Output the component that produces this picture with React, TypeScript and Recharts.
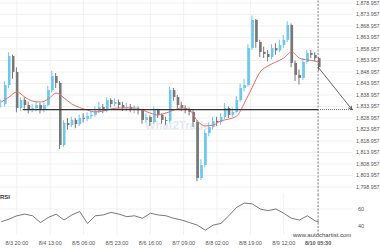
import React from "react";
import {
  ComposedChart, Bar, Line, XAxis, YAxis, CartesianGrid, ReferenceLine, Cell,
} from "recharts";

// hours relative to 8/3 20:00, candles every 2h starting 8/3 12:00
const closes = [
  1835.05, 1843.3, 1855.9, 1849.0, 1833.3, 1836.8, 1834.6, 1832.4, 1833.3, 1834.6,
  1832.4, 1834.6, 1841.1, 1847.2, 1844.2, 1817.2, 1826.8, 1825.9, 1828.1, 1826.3,
  1829.0, 1828.6, 1829.8, 1830.3, 1832.0, 1833.7, 1832.4, 1836.8, 1835.05, 1835.9,
  1834.6, 1833.3, 1833.7, 1832.8, 1832.9, 1832.4, 1828.1, 1829.4, 1827.2, 1832.4,
  1830.3, 1828.1, 1827.7, 1841.1, 1838.1, 1834.6, 1833.3, 1832.4, 1831.6, 1827.2,
  1802.9, 1808.5, 1822.4, 1825.0, 1827.7, 1827.2, 1829.4, 1833.3, 1830.3, 1831.6,
  1836.8, 1842.0, 1843.3, 1859.4, 1871.6, 1862.0, 1857.7, 1856.8, 1855.5, 1859.4,
  1858.3, 1860.7, 1862.9, 1869.4, 1852.9, 1847.7, 1846.4, 1853.3, 1857.2, 1856.4,
  1855.0, 1851.1,
];
const highs = [
  1837, 1845, 1857.5, 1856.5, 1851, 1838, 1838, 1836, 1835, 1836.5,
  1835.5, 1836, 1843, 1849.5, 1848.5, 1845, 1828, 1829, 1829.5, 1829,
  1830.5, 1831, 1831.5, 1832, 1834, 1836, 1835, 1838, 1837.5, 1837.5,
  1837, 1836, 1835.5, 1835, 1834.5, 1834, 1833, 1831, 1830, 1834,
  1833, 1831, 1829.5, 1842.5, 1842, 1839, 1836, 1834.5, 1833.5, 1832.5,
  1828, 1811, 1824, 1827, 1829.5, 1829.5, 1831, 1835.5, 1834, 1833.5,
  1838.5, 1844, 1846, 1861, 1873.5, 1872, 1863, 1860, 1858.5, 1861,
  1861.5, 1863, 1865, 1871, 1870, 1854, 1850, 1855, 1858.5, 1858.5,
  1857.5, 1855.5,
];
const lows = [
  1833.5, 1834, 1842, 1846, 1831.5, 1832, 1833, 1831, 1831.5, 1832,
  1831, 1831.5, 1834, 1840, 1842, 1815.5, 1816.5, 1824, 1825, 1824.5,
  1825.5, 1827, 1827.5, 1828.5, 1829.5, 1831, 1831, 1831.5, 1833.5, 1834,
  1833, 1832, 1832, 1831.5, 1831, 1830.5, 1826.5, 1827, 1825.5, 1826.5,
  1829, 1826.5, 1826, 1827, 1836.5, 1833, 1832, 1831, 1830, 1825,
  1801.5, 1802, 1807.5, 1821, 1824, 1825.5, 1826, 1828.5, 1829, 1829.5,
  1831, 1836, 1840.5, 1842.5, 1858.5, 1859.5, 1855.5, 1855, 1853.5, 1854.5,
  1856.5, 1857.5, 1859.5, 1862, 1851, 1845, 1843.5, 1845.5, 1852.5, 1855,
  1853.5, 1849.5,
];

// moving average, every 4h (last one at the final candle)
const maValues = [
  1835.9, 1838.1, 1840.3, 1838.1, 1836.3, 1835.9, 1837.2, 1839.8, 1837.7, 1835.05,
  1833.5, 1832.4, 1831.6, 1832.0, 1832.9, 1833.3, 1833.3, 1833.3, 1832.4, 1831.1,
  1830.3, 1831.1, 1832.4, 1833.3, 1832.4, 1827.7, 1825.5, 1825.9, 1827.7, 1828.5,
  1829.8, 1835.5, 1842.4, 1849.0, 1851.6, 1853.3, 1855.0, 1857.7, 1855.0, 1854.2,
  1853.7, 1852.9,
];

// RSI, every 4h
const rsiValues = [
  45, 48, 52, 54, 52, 44, 50, 54, 47, 53,
  57, 43, 52, 53, 56, 54, 51, 52, 49, 55,
  53, 52, 49, 47, 44, 41, 35, 41, 43, 52,
  62, 67, 66, 60, 58, 60, 55, 49, 47, 52,
  46, 44.5,
];

const priceTicks = [
  1798.957, 1803.957, 1808.957, 1813.957, 1818.957, 1823.957, 1828.957, 1833.957,
  1838.957, 1843.957, 1848.957, 1853.957, 1858.957, 1863.957, 1868.957, 1873.957, 1878.957,
];
const timeTicks = [0, 17, 34, 51, 68, 85, 102, 119, 136, 153.5];
const timeLabels = [
  "8/3 20:00", "8/4 13:00", "8/5 06:00", "8/5 23:00", "8/6 16:00",
  "8/7 09:00", "8/8 02:00", "8/8 19:00", "8/9 12:00", "8/10 05:30",
];
const supportLevel = 1832.6;
const lastTime = 153.5;
const targetTime = 170.8;

const X_DOMAIN = [-8.6, 171.3];
const FONT = "'Liberation Sans', Arial, sans-serif";
const UP = "#6cc7ee";
const DOWN = "#777777";

const lastIdx = closes.length - 1;
const candles = closes.map((c, i) => ({
  t: -8 + 2 * i,
  body: [i ? closes[i - 1] : c, c],
  wick: [lows[i], highs[i]],
  up: i ? c >= closes[i - 1] : true,
  ma: i % 2 === 0 ? maValues[i / 2] : i === lastIdx ? maValues[maValues.length - 1] : null,
}));
const rsiData = rsiValues.map((v, k) => ({ t: Math.min(-8 + 4 * k, 154), rsi: v }));

const fmtPrice = (v: number) =>
  v.toLocaleString("en-US", { minimumFractionDigits: 3, maximumFractionDigits: 3 });

function Arrow(props: any) {
  const { x1, y1, x2, y2 } = props;
  const a = Math.atan2(y2 - y1, x2 - x1);
  const s = 4;
  const p1 = [x2 - s * Math.cos(a - 0.45), y2 - s * Math.sin(a - 0.45)];
  const p2 = [x2 - s * Math.cos(a + 0.45), y2 - s * Math.sin(a + 0.45)];
  return (
    <g>
      <line x1={x1} y1={y1} x2={x2} y2={y2} stroke="#555" strokeWidth={0.9} />
      <path d={`M${p1[0]},${p1[1]}L${x2},${y2}L${p2[0]},${p2[1]}`} fill="none" stroke="#444" strokeWidth={0.9} />
    </g>
  );
}

export default function App() {
  return (
    <div style={{ position: "absolute", left: 0, top: 0, width: 380, height: 250, background: "#fff", fontFamily: FONT }}>
      <div style={{ position: "absolute", left: 145, top: 119, fontSize: 11, fontWeight: 700, color: "#e3eaf0", letterSpacing: 0.2 }}>
        What<span style={{ color: "#d5ecf7" }}>2</span>Trade
      </div>
      <div style={{ position: "absolute", left: 0, top: 0 }}>
        <ComposedChart width={380} height={195} data={candles} margin={{ top: 0, right: 0, bottom: 0, left: 0 }}>
          <CartesianGrid stroke="#eeeeee" strokeWidth={0.8} horizontalValues={priceTicks} verticalValues={timeTicks} />
          <XAxis dataKey="t" type="number" domain={X_DOMAIN} allowDataOverflow hide ticks={timeTicks} />
          <XAxis xAxisId="wick" dataKey="t" type="number" domain={X_DOMAIN} allowDataOverflow hide />
          <YAxis
            orientation="right" width={27} domain={[1795.48, 1880.26]} allowDataOverflow
            ticks={priceTicks} tickFormatter={fmtPrice} axisLine={false} tickLine={false}
            tickSize={0} tickMargin={3} tick={{ fontSize: 5.3, fill: "#555", fontFamily: FONT }} interval={0}
          />
          <Bar xAxisId="wick" dataKey="wick" barSize={1} isAnimationActive={false}>
            {candles.map((d, i) => (
              <Cell key={i} fill={d.up ? UP : DOWN} />
            ))}
          </Bar>
          <Bar dataKey="body" barSize={2.5} isAnimationActive={false}>
            {candles.map((d, i) => (
              <Cell key={i} fill={d.up ? UP : DOWN} />
            ))}
          </Bar>
          <Line dataKey="ma" type="monotone" connectNulls stroke="#f06a6a" strokeWidth={1} dot={false} activeDot={false} isAnimationActive={false} />
          <ReferenceLine segment={[{ x: 3, y: supportLevel }, { x: lastTime, y: supportLevel }]} stroke="#333" strokeWidth={1.4} />
          <ReferenceLine segment={[{ x: lastTime, y: supportLevel }, { x: 171.3, y: supportLevel }]} stroke="#666" strokeWidth={1} strokeDasharray="1 1" />
          <ReferenceLine x={lastTime} stroke="#666" strokeWidth={0.8} strokeDasharray="2 1.5" />
          <ReferenceLine
            segment={[{ x: lastTime, y: closes[lastIdx] }, { x: targetTime, y: supportLevel }]}
            shape={Arrow}
          />
        </ComposedChart>
      </div>
      <div style={{ position: "absolute", left: 0, top: 193 }}>
        <ComposedChart width={380} height={57} data={rsiData} margin={{ top: 0, right: 0, bottom: 0, left: 0 }}>
          <CartesianGrid stroke="#eeeeee" strokeWidth={0.8} horizontalValues={[40, 60]} verticalValues={timeTicks} />
          <XAxis
            dataKey="t" type="number" domain={X_DOMAIN} allowDataOverflow ticks={timeTicks} interval={0}
            height={15} axisLine={false} tickLine={false} tickSize={0} tickMargin={3}
            tick={({ x, y, payload }: any) => (
              <text x={x} y={y} dy={7} textAnchor="middle" fontSize={5.5} fill="#555" fontFamily={FONT}
                fontWeight={payload.value === lastTime ? 700 : 400}>
                {timeLabels[timeTicks.indexOf(payload.value)]}
              </text>
            )}
          />
          <YAxis
            orientation="right" width={27} domain={[29.4, 78.8]} allowDataOverflow ticks={[40, 60]}
            axisLine={false} tickLine={false} tickSize={0} tickMargin={5}
            tick={{ fontSize: 5.5, fill: "#555", fontFamily: FONT }}
          />
          <Line dataKey="rsi" type="linear" stroke="#555" strokeWidth={0.8} dot={false} activeDot={false} isAnimationActive={false} />
          <ReferenceLine x={lastTime} stroke="#666" strokeWidth={0.8} strokeDasharray="2 1.5" />
        </ComposedChart>
      </div>
      <div style={{ position: "absolute", left: 0, top: 194, fontSize: 6, fontWeight: 700, color: "#333" }}>RSI</div>
      <div style={{ position: "absolute", left: 293, top: 232, fontSize: 6, color: "#444" }}>www.autochartist.com</div>
    </div>
  );
}
